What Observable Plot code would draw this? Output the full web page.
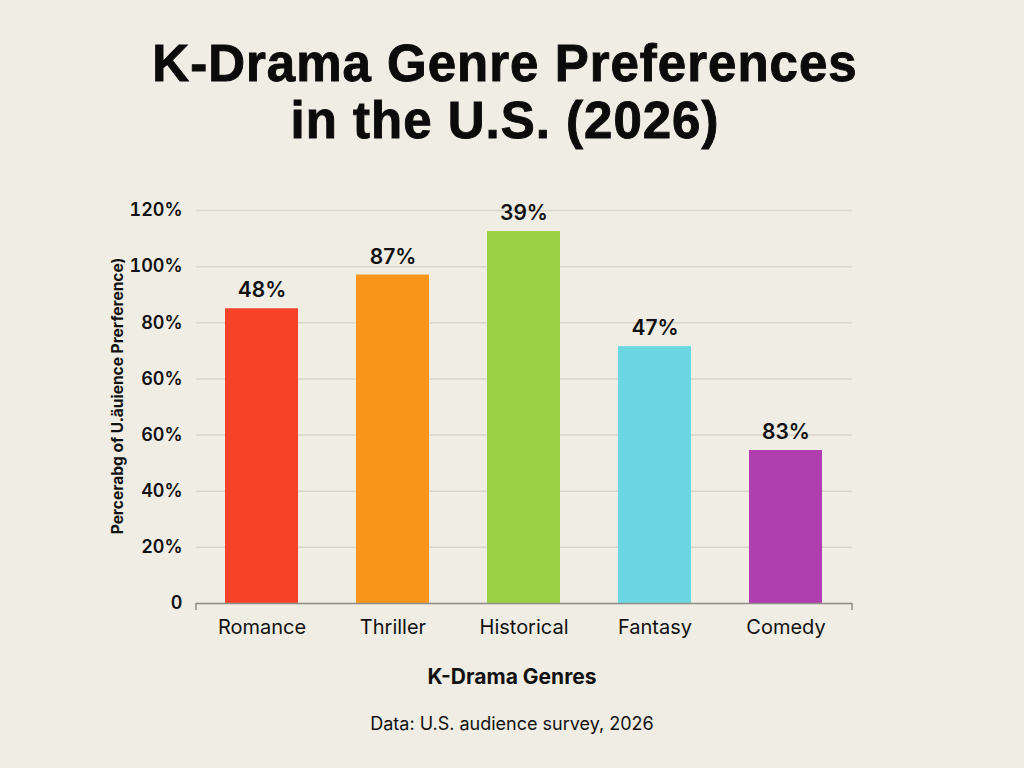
<!DOCTYPE html>
<html>
<head>
<meta charset="utf-8">
<script src="https://cdn.jsdelivr.net/npm/d3@7"></script>
<script src="https://cdn.jsdelivr.net/npm/@observablehq/plot@0.6"></script>
<style>
  html, body { margin: 0; padding: 0; background: #efede4; }
  #page { position: relative; width: 1024px; height: 768px; background: #efede4; overflow: hidden; font-family: "Liberation Sans", Arial, sans-serif; color: #111; }
  .title { position: absolute; left: 0; width: 1010px; text-align: center; font-family: "Liberation Sans", Arial, sans-serif; font-weight: 700; font-size: 51px; line-height: 57px; letter-spacing: 1px; color: #0b0b0b; -webkit-text-stroke: 0.9px #0b0b0b; white-space: nowrap; }
  #t1 { top: 35px; }
  #t2 { top: 92px; }
  #chart { position: absolute; top: 180px; left: 0; }
  #xlabel { position: absolute; top: 664px; left: 0; width: 1024px; text-align: center; font-family: Inter, "Liberation Sans", sans-serif; font-weight: 700; font-size: 21px; color: #111; }
  #caption { position: absolute; top: 713px; left: 0; width: 1024px; text-align: center; font-family: Inter, "Liberation Sans", sans-serif; font-weight: 400; font-size: 18px; color: #111; }
</style>
</head>
<body>
<div id="page">
  <div class="title" id="t1">K-Drama Genre Preferences</div>
  <div class="title" id="t2">in the U.S. (2026)</div>
  <div id="chart"></div>
  <div id="xlabel">K-Drama Genres</div>
  <div id="caption">Data: U.S. audience survey, 2026</div>
</div>
<script>
const genres = ["Romance", "Thriller", "Historical", "Fantasy", "Comedy"];
const barHeights = [105, 117, 132.5, 91.5, 54.5];
const barLabels = ["48%", "87%", "39%", "47%", "83%"];
const barColors = ["#f64328", "#f7961a", "#9cd043", "#6bd7e3", "#b03eae"];
const yTickValues = [0, 20, 40, 60, 80, 100, 120, 140];
const yTickLabels = ["0", "20%", "40%", "60%", "60%", "80%", "100%", "120%"];
const yAxisLabel = "Percerabg of U.äuience Prerference)";

const data = genres.map((g, i) => ({genre: g, h: barHeights[i], label: barLabels[i], color: barColors[i]}));

const chart = Plot.plot({
  width: 1024,
  height: 483,
  marginTop: 30,
  marginBottom: 60,
  marginLeft: 196,
  marginRight: 172,
  style: {background: "transparent", fontFamily: "Inter, 'Liberation Sans', sans-serif", color: "#111"},
  x: {domain: genres, paddingInner: 0.44, paddingOuter: 0.22},
  y: {domain: [0, 140]},
  marks: [
    Plot.gridY(yTickValues, {stroke: "#d9d6cc", strokeOpacity: 1, strokeWidth: 1.5}),
    Plot.axisY(yTickValues, {tickSize: 0, tickPadding: 14, fontSize: 18, fontWeight: 600, tickFormat: (d, i) => yTickLabels[i], label: null}),
    Plot.text([yAxisLabel], {frameAnchor: "left", textAnchor: "middle", rotate: -90, dx: -78, dy: -11, fontSize: 15.5, fontWeight: 700, fill: "#111"}),
    Plot.barY(data, {x: "genre", y: "h", fill: "color"}),
    Plot.ruleY([0], {stroke: "#8f8f8a", strokeWidth: 1.5}),
    Plot.text(data, {x: "genre", y: "h", text: "label", dy: -18, fontSize: 21, fontWeight: 600, fill: "#111"}),
    Plot.axisX({tickSize: 0, tickPadding: 16, fontSize: 20, label: null})
  ]
});
document.getElementById("chart").appendChild(chart);

// small end ticks on the baseline, placed from the library's scales
const xr = chart.scale("x").range;
const y0 = chart.scale("y").apply(0);
const svg = d3.select(chart);
for (const x of xr) {
  svg.append("line").attr("x1", x).attr("x2", x).attr("y1", y0).attr("y2", y0 + 7)
    .attr("stroke", "#8f8f8a").attr("stroke-width", 1.5);
}
</script>
</body>
</html>
